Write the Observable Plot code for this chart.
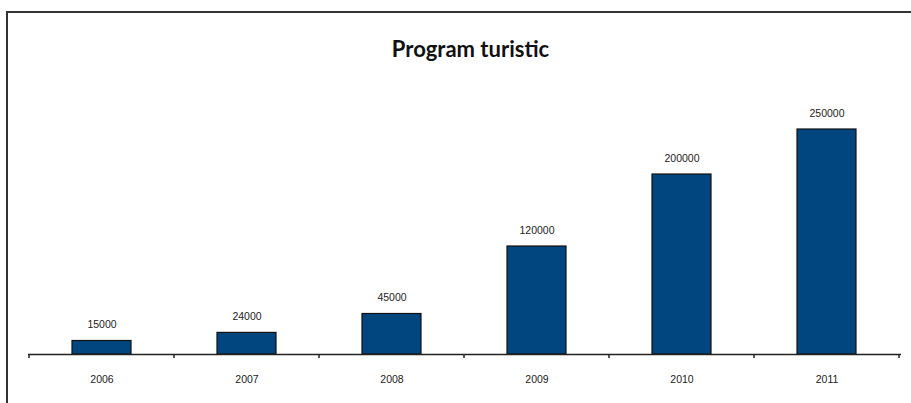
<!DOCTYPE html>
<html>
<head>
<meta charset="utf-8">
<script src="https://cdn.jsdelivr.net/npm/d3@7"></script>
<script src="https://cdn.jsdelivr.net/npm/@observablehq/plot@0.6"></script>
<style>
  html, body { margin: 0; padding: 0; background: #fff; }
  #wrap { position: relative; width: 911px; height: 403px; overflow: hidden; }
  #frame { position: absolute; left: 6px; top: 11px; width: 940px; height: 420px;
           border-left: 2px solid #333; border-top: 2px solid #333; }
  #title { position: absolute; left: 0; top: 35px; width: 941px; text-align: center;
           font-family: Lato, "Open Sans", sans-serif; font-weight: bold; font-size: 22px; color: #111; }
  #chart { position: absolute; left: 0; top: 0; }
</style>
</head>
<body>
<div id="wrap">
  <div id="frame"></div>
  <div id="title">Program turistic</div>
  <div id="chart"></div>
</div>
<script>
const years = ["2006", "2007", "2008", "2009", "2010", "2011"];
const values = [15000, 24000, 45000, 120000, 200000, 250000];

const data = years.map((y, i) => ({year: y, value: values[i]}));

const W = 911, H = 403;
const mL = 28, mR = 10;

const chart = Plot.plot({
  width: W,
  height: H,
  marginLeft: mL,
  marginRight: mR,
  marginTop: 129,
  marginBottom: 49,
  style: {background: "transparent", fontFamily: "Arial, 'Liberation Sans', sans-serif"},
  x: {domain: years, paddingInner: 0.59, paddingOuter: 0.295, align: 0.5, label: null, axis: null},
  y: {domain: [0, 250000], axis: null},
  marks: [
    Plot.barY(data, {x: "year", y: "value", fill: "#02467f", stroke: "#111", strokeWidth: 1.2}),
    Plot.ruleY([0], {stroke: "#222", strokeWidth: 1.5}),
    Plot.text(data, {x: "year", y: "value", text: d => String(d.value), dy: -16,
      fontSize: 10.5, fill: "#222"}),
    Plot.text(data, {x: "year", y: 0, text: "year", dy: 25, fontSize: 10.5, fill: "#222"})
  ]
});

// boundary tick marks placed from the band scale
const xs = chart.scale("x");
const ys = chart.scale("y");
const svg = d3.select(chart);
const y0 = ys.apply(0);
const stepPx = xs.step;
const gap = (stepPx - xs.bandwidth) / 2;
const bounds = years.map(y => xs.apply(y) - gap);
bounds.push(xs.apply(years[years.length - 1]) + xs.bandwidth + gap);
svg.append("g").selectAll("line").data(bounds).join("line")
  .attr("x1", d => d).attr("x2", d => d)
  .attr("y1", y0).attr("y2", y0 + 4)
  .attr("stroke", "#222").attr("stroke-width", 1.5);

document.getElementById("chart").append(chart);
</script>
</body>
</html>
